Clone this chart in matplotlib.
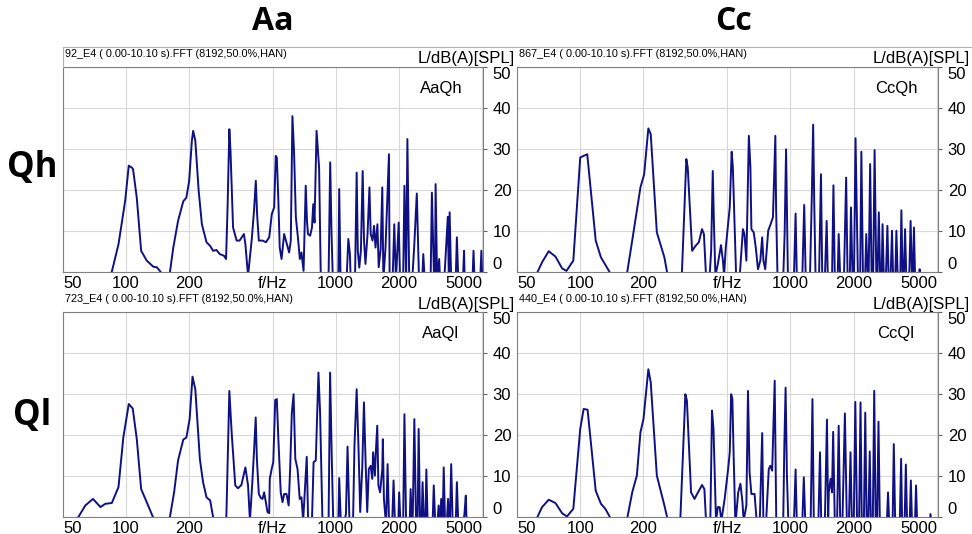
import matplotlib
matplotlib.use("Agg")
import matplotlib.pyplot as plt
from matplotlib.lines import Line2D

plt.rcParams["font.family"] = ["Liberation Sans", "DejaVu Sans"]

W, H = 972, 534

x_ticks = [50, 100, 200, 500, 1000, 2000, 5000]
x_tick_labels = ["50", "100", "200", "f/Hz", "1000", "2000", "5000"]
y_ticks = [0, 10, 20, 30, 40, 50]

col_titles = ["Aa", "Cc"]
row_titles = ["Qh", "Ql"]
panel_names = ["AaQh", "CcQh", "AaQl", "CcQl"]
file_names = ["92_E4", "867_E4", "723_E4", "440_E4"]

# (Hz, dB); -2 = below the axis floor
aaqh = [
    (80, -2), (85.5, 0), (92, 6.7), (99, 17.3), (103, 25.9), (106.7, 25.4), (108, 25),
    (112.5, 18), (118, 5.1), (125.5, 2.7), (135, 1.2), (140, 1.1), (146, 0), (150, -2),
    (158, -2), (162, 0), (168, 5.9), (177, 12.4), (187.5, 17.2), (194, 18.1), (200, 22.2),
    (206, 32), (209, 34.4), (214, 32), (222, 19.8), (230, 11.6), (242, 7.2), (252, 6.3),
    (260, 5.1), (270, 5.3), (280, 4.3), (293, 3.9), (300, 3.1), (305, 15.7), (311, 34.8),
    (315, 29.5), (324, 10.8), (337, 7.6), (348, 7.6), (365, 9.2), (371, 6.7), (382, -1),
    (398, 8), (408, 15), (416, 22.2), (422, 14), (430, 7.6), (448, 7.6), (465, 7.2),
    (482, 8.4), (496, 14.1), (509, 15.7), (518, 28.3), (524, 27.9), (533, 17.3), (541, 5.9),
    (552, 3.1), (568, 9.2), (579, 7.6), (600, 4.7), (611, 7.6), (622, 38), (633, 29.5),
    (646, 13.3), (663, 7.6), (675, 3.1), (687, 4.7), (703, 0.2), (720, 21), (730, 12.4),
    (738, 9.2), (756, 8.8), (771, 10.8), (782, 16.5), (793, 12), (811, 34.4), (834, 25.4),
    (850, -2), (925, -2), (942, 26.7), (956, 9.2), (970, -2), (1030, -2), (1040, 20.2),
    (1056, -2), (1130, -1), (1150, 8), (1170, 4.3), (1180, -2), (1237, -2), (1260, 24.2),
    (1276, 5.1), (1297, 1), (1320, 5.1), (1346, 24.6), (1366, 7.6), (1388, 1.9), (1420, 9.2),
    (1450, 20.6), (1470, 9.2), (1500, 7.6), (1525, 11.2), (1550, 5.9), (1583, 11.6),
    (1605, 1.1), (1640, 5.5), (1670, 20.6), (1690, -2), (1730, 5.9), (1797, 28.7),
    (1810, -2), (1870, -2), (1905, 11.6), (1940, -2), (2000, 12), (2030, -2), (2100, -2),
    (2130, 21), (2170, -2), (2200, 32.4), (2245, -2), (2320, -2), (2370, 5.9), (2440, 19.1),
    (2500, -2), (2590, -2), (2620, 4.3), (2660, -2), (2840, -2), (2880, 19.3), (2950, -2),
    (2980, -2), (3000, 21.4), (3050, -2), (3120, 3.1), (3150, -2), (3300, -2), (3430, 13.4),
    (3470, -2), (3500, 14.5), (3560, -2), (3740, -2), (3790, 8.4), (3850, -2), (4050, -2),
    (4100, 5.1), (4130, -2), (4500, -2), (4550, 5.1), (4600, -2), (4900, -2), (4960, 5.1),
    (5010, -2),
]

ccqh = [
    (60, -2), (62.7, 0), (65.8, 2.3), (70.8, 5), (76.2, 3.7), (82, 0.8), (86, 0.2),
    (92.7, 2.7), (100, 27.9), (108, 28.7), (118.5, 7.6), (125.5, 3.5), (137.7, 0),
    (142, -2), (163, -2), (167.5, 0), (176.8, 7.6), (193.5, 20.6), (201.5, 23.8), (211, 35),
    (216.6, 33.6), (231.6, 9.6), (245, 5.5), (251.6, 3.5), (258.8, 0), (262, -2), (300, -2),
    (305, 0), (320, 27.5), (325, 25.4), (341, 5.1), (354, 6.3), (367, 7.2), (380, 10.4),
    (388, 9.2), (398, -2), (412, -2), (420, 5), (427.5, 24.6), (433, 12), (440, -1),
    (452, 1.9), (468, 6.5), (478, 2.7), (484, -1), (493, 5.9), (506, 11.6), (515, 15.7),
    (526, 29.3), (533, 25.4), (543, 11.6), (553, -2), (573, -2), (595, 10.4), (605, 9.2),
    (618, 2.7), (635, 33.2), (646, 25.4), (653, 10.4), (670, 9.6), (685, 5.9), (702, 0.6),
    (720, 2.7), (735, 8.4), (745, 2.7), (760, 0.6), (785, 10), (806, 11.6), (827, 13.3),
    (849, 33.2), (856, 15.7), (870, -2), (925, -2), (940, 9.2), (955, 29.9), (975, -2),
    (1040, -2), (1060, 14.2), (1075, -2), (1140, -2), (1165, 16.3), (1185, -2), (1240, -2),
    (1265, 17.3), (1285, 35.9), (1300, 17.3), (1320, -2), (1370, -2), (1400, 23.8),
    (1420, -2), (1460, -2), (1490, 12.4), (1510, -2), (1580, -2), (1605, 21.1), (1630, -2),
    (1680, -2), (1700, 9.2), (1730, -2), (1800, -2), (1845, 23), (1875, -2), (1920, -2),
    (1945, 15.7), (1980, -2), (2010, -2), (2045, 32.6), (2100, -2), (2150, -2), (2180, 29.3),
    (2220, -2), (2270, -2), (2300, 9.2), (2340, -2), (2360, -2), (2400, 26.3), (2440, -2),
    (2480, -2), (2520, 29.7), (2570, -2), (2600, -2), (2640, 14.5), (2680, -2), (2720, -2),
    (2750, 11.6), (2790, -2), (2850, -2), (2900, 11.2), (2940, -2), (3000, -2), (3050, 10),
    (3090, -2), (3160, -2), (3200, 10), (3250, -2), (3340, -2), (3380, 15), (3430, -2),
    (3470, -2), (3520, 10.4), (3570, -2), (3680, -2), (3740, 12.4), (3800, -2), (3830, -2),
    (3880, 10.8), (3930, -2), (4100, -2), (4130, 0.6), (4160, -2),
]

aaql = [
    (56, -2), (59.4, 0), (63.9, 2.7), (69.5, 4.3), (75.5, 2.3), (79.5, 3.1), (85.5, 3.3),
    (92, 7.2), (97, 19.3), (103, 27.5), (107.6, 26.4), (112.5, 18.9), (118, 6.7),
    (125.5, 3.5), (134, 0), (138, -2), (158, -2), (162, 0), (169.5, 5.9), (177, 13.7),
    (187.5, 18.8), (194, 19.3), (201, 23.8), (207.5, 34.2), (214, 31.1), (225, 14),
    (233, 8.4), (242, 4.7), (252, 3.9), (260, 0), (264, -2), (297, -2), (301, 0),
    (311, 30.7), (319, 20.6), (332, 7.6), (342, 6.9), (355, 7.7), (371, 12), (382, 7.6),
    (390, -1), (400, 8), (408, 16), (415.5, 24.2), (421, 14), (430, 5.5), (440, 4.5),
    (448, 4.3), (456, 5.9), (473, 1.1), (482, 0.8), (485, 9.2), (495, 11.6), (504, 13.3),
    (515, 28.5), (524, 28.7), (533, 18.9), (547, 5.9), (558, 3.5), (568, 5.5), (583, 5.5),
    (597, 2.7), (607, 12), (618, 25.4), (630, 29.9), (642, 14.1), (658, 11.6), (674, 4.3),
    (687, 4.7), (700, -1), (728, 14.6), (740, -2), (770, -2), (785, 13.3), (804, 13.7),
    (828, 35.2), (843, 25.4), (866, -2), (925, -2), (941, 35.2), (958, 14.9), (975, -2),
    (1030, -2), (1040, 9.4), (1060, -2), (1090, -2), (1120, 0.6), (1140, 17.1), (1165, -2),
    (1210, -2), (1230, 17.3), (1260, 31.1), (1285, 17.3), (1310, 1.1), (1340, 12),
    (1365, 27.9), (1390, 13.3), (1415, 1.1), (1440, 11.6), (1470, 12.4), (1495, 9.2),
    (1510, 15.7), (1540, 10), (1555, 15.7), (1580, 22.2), (1600, 7.6), (1630, 5.9),
    (1670, 11.6), (1680, 18.9), (1700, 4.3), (1740, -2), (1770, 12.8), (1800, -2),
    (1860, -2), (1890, 8.8), (1920, -2), (1990, -2), (2010, 5.9), (2040, -2), (2100, -2),
    (2130, 25), (2170, -2), (2255, -2), (2280, 6.7), (2310, -2), (2330, -2), (2375, 23.8),
    (2420, -2), (2460, -2), (2490, 21.4), (2530, -2), (2570, -2), (2600, 8.4), (2640, -2),
    (2680, -2), (2710, 11.5), (2750, -2), (2900, -2), (2940, 7.6), (2990, -2), (3060, -2),
    (3100, 2.7), (3150, -2), (3190, 4.3), (3240, -2), (3280, 12), (3330, -2), (3390, -2),
    (3440, 4.3), (3490, -2), (3510, -2), (3560, 12.8), (3620, -2), (3740, -2), (3790, 8.4),
    (3850, -2), (4060, -2), (4120, 0.7), (4180, 5.1), (4220, -2),
]

ccql = [
    (60, -2), (62.7, 0), (65.8, 2.3), (70.8, 4.1), (76.2, 3.3), (82, 0.8), (86.5, 0),
    (92.7, 1.9), (100, 21.4), (103.8, 26.3), (108.4, 26.1), (118.5, 6.3), (125.5, 3.1),
    (131.6, 1.9), (138, 0), (142, -2), (164, -2), (168, 0), (176.8, 5.9), (186, 10),
    (193.5, 20.6), (200, 23.8), (211, 36), (216.6, 32.8), (231.6, 10), (245, 5.1),
    (251.6, 2.7), (258.8, 0), (262, -2), (296, -2), (300, 0), (316.6, 29.9), (322, 28.3),
    (337, 5.9), (350, 4.3), (360, 5.5), (380, 7.7), (390, 6.7), (398, -2), (416, -2),
    (424, 25.9), (431, 21.4), (443, -1), (452, 2.3), (461, 2.3), (470, -1), (487, 4.3),
    (506, 11.6), (515, 15.7), (523, 29.9), (530, 28.7), (537, 15.7), (548, -2), (565, 5.9),
    (579, 8), (592, 3.5), (600, -1), (618, 2.7), (629, 30.7), (640, 10.8), (653, 5.5),
    (676, 5.5), (694, -2), (715, -2), (735, 20.4), (745, -2), (766, -2), (790, 11.6),
    (804, 12.4), (820, 11.2), (843, 33.2), (858, -2), (925, -2), (937, 17.3), (950, 31.5),
    (964, 10), (980, -2), (1040, -2), (1060, 11.5), (1075, -2), (1140, -2), (1160, 9.6),
    (1180, -2), (1250, -2), (1275, 28.7), (1295, -2), (1360, -2), (1385, 15.7), (1405, -2),
    (1460, -2), (1495, 23.7), (1515, -1), (1525, 5.9), (1555, 9.2), (1580, 5.9),
    (1600, 20.7), (1630, -2), (1670, -2), (1700, 22.2), (1730, -2), (1770, -2), (1820, 25.2),
    (1860, -2), (1900, -2), (1935, 15.7), (1965, -2), (2005, -2), (2040, 28), (2080, -2),
    (2125, -2), (2160, 27.9), (2190, -2), (2240, -2), (2275, 25.4), (2310, -2), (2350, -2),
    (2390, 15.9), (2420, -2), (2470, -2), (2510, 30.7), (2550, -2), (2590, -2), (2630, 23.2),
    (2670, -2), (2880, -2), (2920, 5.9), (2960, -2), (3070, -2), (3110, 17.7), (3160, -2),
    (3320, -2), (3370, 14.1), (3410, -2), (3500, -2), (3550, 12.7), (3600, -2), (3700, -2),
    (3750, 8.8), (3800, -2), (3920, -2), (3970, 7.6), (4020, -2), (4600, -2), (4650, 0.6),
    (4700, -2),
]

spectra = [aaqh, ccqh, aaql, ccql]

# panel frames in pixels: left, top, right, bottom
lefts = [63, 517]
rights = [483, 938]
tops = [67, 312]
bottoms = [271.7, 516.5]


def fx(x):
    return x / W


def fy(y):
    return 1 - y / H


fig = plt.figure(figsize=(W / 100, H / 100), dpi=100)

for i, pts in enumerate(spectra):
    r, c = divmod(i, 2)
    l, rt, t, b = lefts[c], rights[c], tops[r], bottoms[r]
    ax = fig.add_axes([fx(l), fy(b), (rt - l) / W, (b - t) / H])
    hz = [p[0] for p in pts]
    db = [p[1] for p in pts]
    ax.plot(hz, db, color="#101085", lw=1.4)
    ax.set_xscale("log")
    ax.set_xlim(50, 5050)
    ax.set_ylim(0, 50)
    ax.set_xticks(x_ticks)
    ax.set_xticklabels(x_tick_labels, fontsize=12)
    ax.xaxis.set_minor_locator(plt.NullLocator())
    ax.set_yticks(y_ticks)
    ax.set_yticklabels([str(v) for v in y_ticks], fontsize=12)
    ax.yaxis.tick_right()
    ax.tick_params(axis="x", length=0, pad=3)
    ax.tick_params(axis="y", length=3, width=0.8, pad=4, color="#606060")
    xl = ax.get_xticklabels()
    xl[0].set_ha("left")
    xl[-1].set_ha("right")
    yl = ax.get_yticklabels()
    yl[0].set_va("bottom")
    yl[-1].set_va("top")
    ax.grid(True, color="#d8d8d8", lw=0.8)
    ax.set_axisbelow(True)
    for s in ax.spines.values():
        s.set_color("#808080")
        s.set_linewidth(0.8)
    ax.text(0.9, 0.895, panel_names[i], transform=ax.transAxes,
            ha="center", va="center", fontsize=12)

    # header strip above the plot
    hy = t - 13
    fig.text(fx(l + 2), fy(hy), f"{file_names[i]} ( 0.00-10.10 s).FFT (8192,50.0%,HAN)",
             fontsize=7.8, ha="left", va="center")
    fig.text(fx(rt + 32), fy(t - 8), "L/dB(A)[SPL]", fontsize=12, ha="right", va="center")

# top border line of the header strip
fig.add_artist(Line2D([fx(63), fx(972)], [fy(47), fy(47)], color="#b0b0b0", lw=0.8))
fig.add_artist(Line2D([fx(63), fx(63)], [fy(47), fy(67)], color="#b0b0b0", lw=0.8))

for c, title in enumerate(col_titles):
    fig.text(fx([273, 733][c]), fy(22), title, fontsize=23, fontweight="bold",
             family="Open Sans", ha="center", va="center")
for r, title in enumerate(row_titles):
    fig.text(fx(32), fy([168, 416][r]), title, fontsize=25, fontweight="bold",
             family="Open Sans", ha="center", va="center")

fig.savefig("out.png", dpi=100)
